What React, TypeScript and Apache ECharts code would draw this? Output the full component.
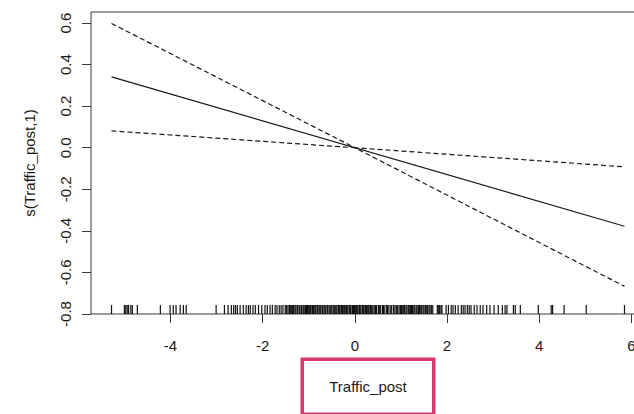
import React, { useEffect, useRef } from "react";
import * as echarts from "echarts";

// Axis ticks
const xTicks = [-4, -2, 0, 2, 4, 6];
const yTicks = [-0.8, -0.6, -0.4, -0.2, 0.0, 0.2, 0.4, 0.6];

// Axis ranges (data range padded like base R graphics)
const xMin = -5.725;
const xMax = 6.295;
const yMin = -0.8;
const yMax = 0.653;

// Fitted smooth term s(Traffic_post,1)
const fitX = [-5.28, 5.85];
const fitY = [0.341, -0.378];

// Upper and lower confidence limits
const upperX = [-5.28, 0, 5.85];
const upperY = [0.598, 0, -0.092];
const lowerX = [-5.28, 0, 5.85];
const lowerY = [0.081, 0, -0.667];

// Observed Traffic_post values shown as a rug
const rugX = [
  -5.28, -5.0, -4.97, -4.94, -4.91, -4.86, -4.83, -4.72, -4.22, -4.01, -3.94, -3.88, -3.79, -3.72, -3.66,
  -3.01, -2.83, -2.75, -2.68, -2.63, -2.59, -2.55, -2.49, -2.42, -2.36, -2.31, -2.27, -2.21, -2.16, -2.09,
  -2.02, -1.95, -1.9, -1.84, -1.79, -1.73, -1.69, -1.64, -1.6, -1.56, -1.51, -1.48, -1.45, -1.42,
  -1.4, -1.37, -1.35, -1.33, -1.3, -1.28, -1.25, -1.24, -1.21, -1.19, -1.16, -1.15, -1.12, -1.1, -1.07,
  -1.05, -1.03, -1.0, -0.99, -0.96, -0.93, -0.92, -0.9, -0.87, -0.85, -0.82, -0.81, -0.78, -0.76, -0.74,
  -0.71, -0.7, -0.67, -0.65, -0.63, -0.6, -0.59, -0.56, -0.54, -0.52, -0.5, -0.47, -0.45, -0.43, -0.41,
  -0.39, -0.36, -0.35, -0.33, -0.3, -0.29, -0.27, -0.24, -0.23, -0.21, -0.18, -0.17, -0.15, -0.12, -0.11,
  -0.09, -0.06, -0.05, -0.03, -0.01, 0.01, 0.04, 0.05, 0.07, 0.1, 0.11, 0.13, 0.16, 0.17, 0.19, 0.22,
  0.23, 0.25, 0.28, 0.29, 0.31, 0.34, 0.35, 0.37, 0.39, 0.42, 0.45, 0.47, 0.51, 0.53, 0.56, 0.6, 0.62,
  0.65, 0.69, 0.71, 0.74, 0.78, 0.8, 0.84, 0.87, 0.9, 0.93, 0.96, 0.99, 1.01, 1.04, 1.06, 1.08, 1.11,
  1.13, 1.16, 1.18, 1.21, 1.23, 1.25, 1.28, 1.3, 1.33, 1.35, 1.38, 1.4, 1.43, 1.45, 1.48, 1.5, 1.53,
  1.56, 1.58, 1.61, 1.63, 1.66, 1.69, 1.79, 1.81, 1.84, 1.87, 1.89, 1.98, 2.03, 2.09, 2.13, 2.18, 2.24,
  2.31, 2.35, 2.39, 2.44, 2.48, 2.52, 2.59, 2.65, 2.72, 2.78, 2.86, 2.93, 3.02, 3.11, 3.2, 3.26, 3.3,
  3.44, 3.48, 3.59, 3.98, 4.26, 4.29, 4.54, 5.02, 5.85,
];

const xName = "Traffic_post";
const yName = "s(Traffic_post,1)";

const FONT = "'Liberation Sans', Arial, Helvetica, sans-serif";
const INK = "#1a1a1a";

function pairs(xs: number[], ys: number[]) {
  return xs.map((x, i) => [x, ys[i]]);
}

export default function App() {
  const ref = useRef<HTMLDivElement>(null);

  useEffect(() => {
    if (!ref.current) return;
    const chart = echarts.init(ref.current, null, { renderer: "svg" });

    const option: any = {
      animation: false,
      backgroundColor: "#ffffff",
      grid: {
        left: 91,
        right: -11,
        top: 12,
        bottom: 100,
        show: true,
        borderColor: "#3a3a3a",
        borderWidth: 1,
        backgroundColor: "transparent",
        containLabel: false,
        outerBoundsMode: "none",
      },
      xAxis: {
        type: "value",
        min: xMin,
        max: xMax,
        name: xName,
        nameLocation: "middle",
        nameGap: 68,
        nameTextStyle: {
          fontFamily: FONT,
          fontSize: 15,
          color: INK,
          verticalAlign: "middle",
          borderColor: "#d9376e",
          borderWidth: 3.5,
          padding: [19, 27, 18, 27],
          lineHeight: 18,
        },
        axisLine: { show: false, onZero: false },
        axisTick: {
          show: true,
          length: 9,
          customValues: xTicks,
          lineStyle: { color: "#3a3a3a", width: 1 },
        },
        axisLabel: {
          customValues: xTicks,
          margin: 31,
          verticalAlign: "middle",
          fontFamily: FONT,
          fontSize: 15,
          color: INK,
          formatter: (v: number) => String(v),
        },
        splitLine: { show: false },
      },
      yAxis: {
        type: "value",
        min: yMin,
        max: yMax,
        name: yName,
        nameLocation: "middle",
        nameRotate: 90,
        nameGap: 62,
        nameTextStyle: {
          fontFamily: FONT,
          fontSize: 15,
          color: INK,
          verticalAlign: "middle",
        },
        axisLine: { show: false, onZero: false },
        axisTick: {
          show: true,
          length: 9,
          customValues: yTicks,
          lineStyle: { color: "#3a3a3a", width: 1 },
        },
        axisLabel: {
          customValues: yTicks,
          rotate: 90,
          margin: 26,
          align: "center",
          verticalAlign: "middle",
          fontFamily: FONT,
          fontSize: 15,
          color: INK,
          formatter: (v: number) => v.toFixed(1),
        },
        splitLine: { show: false },
      },
      series: [
        {
          name: "fit",
          type: "line",
          data: pairs(fitX, fitY),
          showSymbol: false,
          symbol: "none",
          lineStyle: { color: INK, width: 1.2 },
        },
        {
          name: "upper",
          type: "line",
          data: pairs(upperX, upperY),
          showSymbol: false,
          symbol: "none",
          lineStyle: { color: INK, width: 1.2, type: [5, 3] },
        },
        {
          name: "lower",
          type: "line",
          data: pairs(lowerX, lowerY),
          showSymbol: false,
          symbol: "none",
          lineStyle: { color: INK, width: 1.2, type: [5, 3] },
        },
        {
          name: "rug",
          type: "custom",
          data: rugX.map((v) => [v, yMin]),
          encode: { x: 0, y: 1 },
          renderItem: (_params: any, api: any) => {
            const p = api.coord([api.value(0), api.value(1)]);
            return {
              type: "line",
              shape: { x1: p[0], y1: p[1], x2: p[0], y2: p[1] - 9 },
              style: { stroke: "#111", lineWidth: 1.2 },
            };
          },
        },
      ],
    };

    chart.setOption(option);
    return () => chart.dispose();
  }, []);

  return (
    <div
      ref={ref}
      style={{ position: "absolute", left: 0, top: 0, width: 634, height: 414, background: "#fff" }}
    />
  );
}
